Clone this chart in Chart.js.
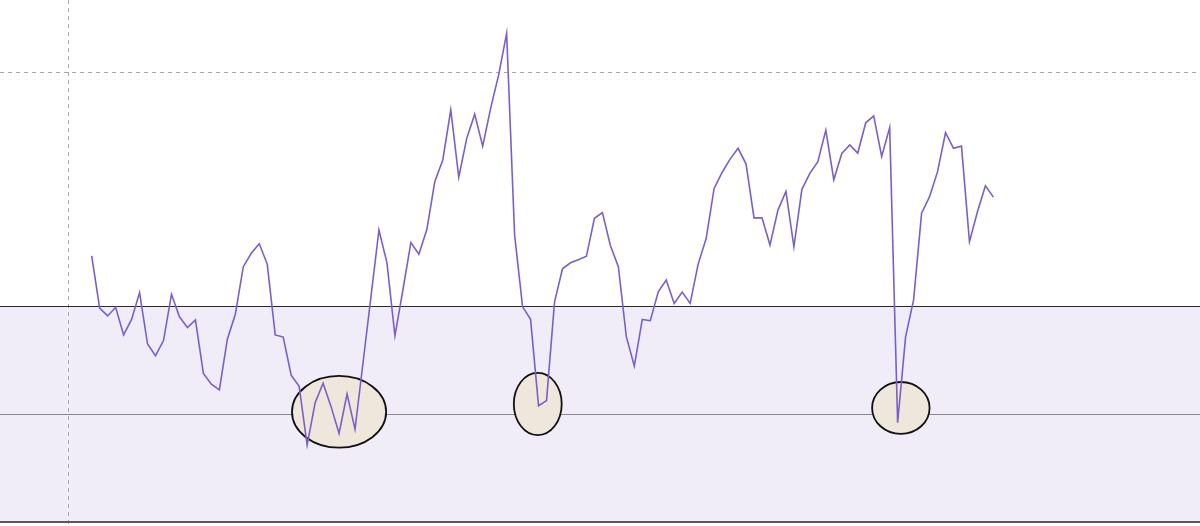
<!DOCTYPE html>
<html>
<head>
<meta charset="utf-8">
<script src="https://cdn.jsdelivr.net/npm/chart.js@4/dist/chart.umd.min.js"></script>
<style>
  html, body { margin: 0; padding: 0; background: #ffffff; }
  #wrap { width: 1200px; height: 526px; position: relative; }
</style>
</head>
<body>
<div id="wrap"><canvas id="c"></canvas></div>
<script>
// Oscillator readings, one per period (period index = position in array)
const oscValues = [
  61.6, 49.5, 47.7, 49.7, 43.3, 46.9, 53.1, 41.2, 38.5, 42.0,
  52.7, 47.5, 45.0, 46.8, 34.4, 31.9, 30.6, 42.3, 48.1, 59.1,
  62.2, 64.4, 59.7, 43.3, 42.8, 34.0, 31.4, 17.8, 27.6, 32.1,
  26.7, 20.5, 29.6, 21.5, 36.8, 52.2, 67.6, 60.0, 43.1, 53.7,
  64.7, 62.0, 67.7, 78.8, 83.8, 95.4, 79.8, 88.8, 94.4, 87.0,
  95.8, 103.5, 113.1, 66.4, 49.8, 46.9, 26.9, 28.1, 50.9, 58.6,
  60.0, 60.7, 61.5, 70.3, 71.6, 64.0, 59.1, 42.9, 36.1, 46.9,
  46.6, 53.3, 56.0, 50.6, 53.2, 50.6, 59.7, 65.6, 77.2, 80.9,
  84.0, 86.5, 82.9, 70.4, 70.4, 64.1, 72.2, 76.5, 63.7, 77.0,
  80.7, 83.4, 90.7, 79.2, 85.3, 87.3, 85.4, 92.4, 94.0, 84.6,
  91.3, 23.0, 42.9, 51.4, 71.5, 75.3, 81.1, 90.1, 86.5, 87.0,
  64.9, 71.8, 77.8, 75.2
];

// Reference levels
const upperBand = 50;      // top of shaded zone
const midLevel = 25;       // inner reference line
const lowerBand = 0;       // bottom of shaded zone
const gridLevel = 104.2;   // dashed horizontal guide
const gridPeriod = -3;     // dashed vertical guide

// Highlighted lows: [centre period, centre value, half-width (periods), half-height (value)]
const highlightCenters = [31.0, 55.9, 101.4];
const highlightValues = [25.5, 27.3, 26.4];
const highlightHalfWidths = [5.9, 3.0, 3.6];
const highlightHalfHeights = [8.3, 7.2, 6.0];

// Visible window
const xRange = [-11.49, 138.89];
const yRange = [-0.93, 120.83];

const points = oscValues.map((v, i) => ({ x: i, y: v }));

const decor = {
  id: 'decor',
  beforeDatasetsDraw(chart) {
    const ctx = chart.ctx;
    const xs = chart.scales.x, ys = chart.scales.y;
    const W = chart.width;
    const yTop = ys.getPixelForValue(upperBand);
    const yMid = ys.getPixelForValue(midLevel);
    const yBot = ys.getPixelForValue(lowerBand);
    ctx.save();
    // shaded band
    ctx.fillStyle = '#f0edf8';
    ctx.fillRect(0, yTop, W, yBot - yTop);
    // dashed guides
    ctx.strokeStyle = '#a9a3b6';
    ctx.lineWidth = 1;
    ctx.setLineDash([4, 4]);
    const gy = Math.round(ys.getPixelForValue(gridLevel)) + 0.5;
    ctx.beginPath(); ctx.moveTo(0, gy); ctx.lineTo(W, gy); ctx.stroke();
    const gx = Math.round(xs.getPixelForValue(gridPeriod)) + 0.5;
    ctx.beginPath(); ctx.moveTo(gx, 0); ctx.lineTo(gx, chart.height); ctx.stroke();
    ctx.setLineDash([]);
    // band lines
    ctx.strokeStyle = '#2a2a2a';
    ctx.lineWidth = 1;
    ctx.beginPath(); ctx.moveTo(0, Math.round(yTop) + 0.5); ctx.lineTo(W, Math.round(yTop) + 0.5); ctx.stroke();
    ctx.strokeStyle = '#8a8790';
    ctx.beginPath(); ctx.moveTo(0, Math.round(yMid) + 0.5); ctx.lineTo(W, Math.round(yMid) + 0.5); ctx.stroke();
    ctx.strokeStyle = '#5a5a5a';
    ctx.lineWidth = 2;
    ctx.beginPath(); ctx.moveTo(0, Math.round(yBot)); ctx.lineTo(W, Math.round(yBot)); ctx.stroke();
    // highlight ellipses
    for (let k = 0; k < highlightCenters.length; k++) {
      const cx = xs.getPixelForValue(highlightCenters[k]);
      const cy = ys.getPixelForValue(highlightValues[k]);
      const rx = Math.abs(xs.getPixelForValue(highlightCenters[k] + highlightHalfWidths[k]) - cx);
      const ry = Math.abs(ys.getPixelForValue(highlightValues[k] + highlightHalfHeights[k]) - cy);
      ctx.beginPath();
      ctx.ellipse(cx, cy, rx, ry, 0, 0, Math.PI * 2);
      ctx.fillStyle = '#efe6dc';
      ctx.fill();
      ctx.strokeStyle = '#111111';
      ctx.lineWidth = 1.8;
      ctx.stroke();
    }
    ctx.restore();
  }
};

new Chart(document.getElementById('c'), {
  type: 'line',
  data: {
    datasets: [{
      data: points,
      borderColor: '#7b5fc9',
      borderWidth: 1.6,
      pointRadius: 0,
      tension: 0,
      fill: false
    }]
  },
  options: {
    responsive: true,
    maintainAspectRatio: false,
    animation: false,
    layout: { padding: 0 },
    plugins: { legend: { display: false }, tooltip: { enabled: false } },
    scales: {
      x: { type: 'linear', min: xRange[0], max: xRange[1], display: false },
      y: { type: 'linear', min: yRange[0], max: yRange[1], display: false }
    }
  },
  plugins: [decor]
});
</script>
</body>
</html>
